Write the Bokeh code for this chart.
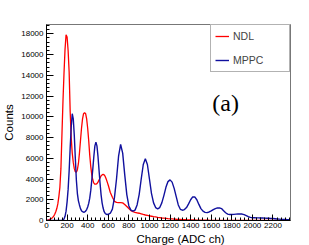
from bokeh.plotting import figure
from bokeh.models import SingleIntervalTicker, Legend, LegendItem, Label, Range1d, Title
from bokeh.embed import file_html
from bokeh.resources import INLINE

charge_fine = list(range(0, 601, 10))
charge_coarse = list(range(620, 2361, 20))
charge = charge_fine + charge_coarse

ndl_fine = [0, 30, 60, 100, 150, 220, 300, 420, 600, 850,
            1150, 1600, 2300, 3200, 5000, 8300, 11500, 14200, 16500, 17900,
            17700, 16400, 14300, 10500, 8000, 6500, 5600, 5000, 4700, 4650,
            4900, 5500, 6500, 7700, 8900, 9800, 10300, 10400, 10300, 9800,
            8900, 7700, 6300, 5200, 4400, 3900, 3600, 3500, 3500, 3550,
            3700, 3900, 4100, 4300, 4400, 4450, 4400, 4250, 4000, 3700,
            3400]
ndl_coarse = [2700, 2250, 1850, 1750, 1720, 1720, 1700, 1550, 1350, 1150,
              950, 850, 780, 740, 700, 640, 580, 530, 490, 450,
              410, 370, 340, 300, 270, 240, 220, 200, 180, 165,
              150, 135, 120, 110, 100, 90, 80, 72, 65, 58,
              52, 47, 42, 38, 34, 31, 28, 25, 22, 20,
              18, 16, 15, 14, 13, 12, 11, 10, 9, 8,
              8, 7, 7, 6, 6, 5, 5, 5, 4, 4,
              4, 3, 3, 3, 3, 2, 2, 2, 2, 2,
              1, 1, 1, 1, 1, 1, 1, 1]
ndl = ndl_fine + ndl_coarse

mppc_fine = [0, 0, 0, 0, 0, 0, 0, 0, 0, 0,
             0, 0, 0, 0, 5, 20, 50, 150, 400, 900,
             1800, 3000, 4800, 7000, 9000, 10300, 9800, 8200, 6000, 3900,
             2600, 1900, 1500, 1150, 950, 850, 800, 820, 900, 1050,
             1300, 1650, 2150, 2900, 3900, 5000, 6200, 7200, 7550, 7200,
             6200, 4900, 3600, 2500, 1700, 1200, 850, 680, 600, 580,
             600]
mppc_coarse = [700, 1100, 2200, 4000, 6200, 7330, 6500, 4400, 2500, 1400,
               1000, 900, 1000, 1500, 2500, 4000, 5400, 5950, 5400, 4000,
               2600, 1700, 1250, 1130, 1250, 1700, 2400, 3200, 3750, 3920,
               3700, 3100, 2300, 1500, 1080, 990, 1050, 1250, 1600, 2000,
               2270, 2280, 2000, 1550, 1150, 900, 780, 760, 820, 920,
               1050, 1150, 1210, 1220, 1150, 950, 750, 620, 580, 580,
               590, 610, 630, 640, 620, 570, 480, 380, 300, 270,
               260, 250, 250, 240, 240, 230, 220, 210, 200, 190,
               170, 150, 130, 110, 100, 90, 80, 70]
mppc = mppc_fine + mppc_coarse

x_ticks_interval = 200
y_ticks_interval = 2000
x_title = "Charge (ADC ch)"
y_title = "Counts"

p = figure(width=309, height=245, output_backend="svg", toolbar_location=None,
           x_range=Range1d(0, 2370), y_range=Range1d(0, 18900),
           min_border_left=43, min_border_right=19, min_border_top=24, min_border_bottom=25)
p.grid.visible = False
p.outline_line_color = "#777777"
p.background_fill_color = "white"
p.border_fill_color = "white"

r_ndl = p.line(charge, ndl, line_color="#ff0000", line_width=1.3)
r_mppc = p.line(charge, mppc, line_color="#10109e", line_width=1.4)

for ax, interval in ((p.xaxis[0], x_ticks_interval), (p.yaxis[0], y_ticks_interval)):
    ax.ticker = SingleIntervalTicker(interval=interval, num_minor_ticks=5)
    ax.major_tick_in = 7
    ax.major_tick_out = 0
    ax.minor_tick_in = 3
    ax.minor_tick_out = 0
    ax.axis_line_color = "black"
    ax.major_tick_line_color = "black"
    ax.minor_tick_line_color = "black"
    ax.major_label_text_font = "Liberation Sans"
    ax.major_label_text_font_size = "8px"
    ax.major_label_text_color = "black"

p.xaxis.major_tick_in = 6
p.xaxis.major_label_standoff = 2
p.yaxis.major_label_standoff = 3

p.yaxis.axis_label = y_title
p.yaxis.axis_label_text_font = "Liberation Sans"
p.yaxis.axis_label_text_font_size = "11.5px"
p.yaxis.axis_label_text_font_style = "normal"
p.yaxis.axis_label_text_color = "black"
p.yaxis.axis_label_standoff = 3

p.add_layout(Title(text=x_title, align="left", offset=90, text_font="Liberation Sans",
                   text_font_size="11.5px", text_font_style="normal", text_color="black",
                   standoff=0), "below")

legend = Legend(items=[LegendItem(label="NDL", renderers=[r_ndl]),
                       LegendItem(label="MPPC", renderers=[r_mppc])],
                location="top_right", margin=0, padding=4, spacing=10,
                glyph_width=14, glyph_height=14, label_width=52, label_standoff=4,
                label_text_font="Liberation Sans", label_text_font_size="10.5px",
                border_line_color="#666666", border_line_width=1,
                background_fill_alpha=1)
p.add_layout(legend)

p.add_layout(Label(x=1610, y=11300, text="(a)", text_font="Liberation Serif",
                   text_font_size="24px", text_color="black", text_baseline="alphabetic"))

open("out.html", "w").write(file_html(p, INLINE))
